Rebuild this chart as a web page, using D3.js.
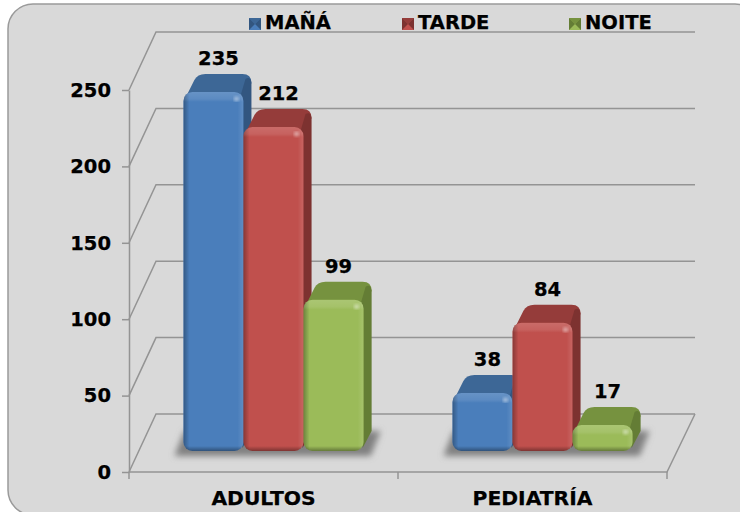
<!DOCTYPE html>
<html>
<head>
<meta charset="utf-8">
<script src="https://cdn.jsdelivr.net/npm/d3@7"></script>
<style>
    html, body { margin: 0; padding: 0; background: #ffffff; overflow: hidden; }
    svg { display: block; }
    text { font-family: "DejaVu Sans", sans-serif; font-weight: bold; fill: #000000; stroke: #000000; stroke-width: 0.25px; }
</style>
</head>
<body>
<svg id="drawing_region"></svg>
<script>
const categories = ["ADULTOS", "PEDIATRÍA"];
const series_names = ["MAÑÁ", "TARDE", "NOITE"];
const mana_values = [235, 38];
const tarde_values = [212, 84];
const noite_values = [99, 17];
const y_ticks = [0, 50, 100, 150, 200, 250];

const series_values = [mana_values, tarde_values, noite_values];

// front, top face, side face
const colors = [
    { front: "#4a7ebb", top: "#3d6796", side: "#325680" },
    { front: "#c0504d", top: "#953c3a", side: "#7d3230" },
    { front: "#9bbb59", top: "#76923f", side: "#647d35" }
];

const config = {
    width: 740,
    height: 512,
    x0: 129, x1: 667,
    y0: 472, y1: 90,
    depth_x: 27, depth_y: 58,
    bar_dx: 8, bar_dy: 18,
    bar_r: 9,
    base_lift: 21
};

const svg = d3.select("#drawing_region")
    .attr("width", config.width)
    .attr("height", config.height);

const defs = svg.append("defs");

defs.append("filter").attr("id", "blur_shadow")
    .attr("x", "-20%").attr("y", "-40%").attr("width", "140%").attr("height", "180%")
    .append("feGaussianBlur").attr("stdDeviation", 3);
defs.append("filter").attr("id", "blur_spot")
    .append("feGaussianBlur").attr("stdDeviation", 1.5);

function add_gradient(id, x2, y2, stops) {
    const g = defs.append("linearGradient").attr("id", id)
        .attr("x1", 0).attr("y1", 0).attr("x2", x2).attr("y2", y2);
    stops.forEach(s => {
        g.append("stop").attr("offset", s[0]).attr("stop-color", s[1]).attr("stop-opacity", s[2]);
    });
}
add_gradient("bevel_top", 0, 1, [[0, "#ffffff", 0.16], [0.7, "#ffffff", 0.1], [1, "#ffffff", 0]]);
add_gradient("bevel_bottom", 0, 1, [[0, "#000000", 0], [1, "#000000", 0.35]]);
add_gradient("bevel_left", 1, 0, [[0, "#000000", 0.3], [1, "#000000", 0]]);
add_gradient("bevel_right", 1, 0, [[0, "#ffffff", 0], [1, "#ffffff", 0.12]]);

// panel
svg.append("rect")
    .attr("x", 8).attr("y", 4)
    .attr("width", 752).attr("height", 511)
    .attr("rx", 25).attr("ry", 25)
    .attr("fill", "#d9d9d9")
    .attr("stroke", "#9a9a9a")
    .attr("stroke-width", 1.5);

// scales
const yscale = d3.scaleLinear().domain([0, 250]).range([config.y0, config.y1]);
const xscale = d3.scaleBand().domain(categories)
    .range([config.x0, config.x1]).paddingInner(0.33).paddingOuter(0.165);
const xinner = d3.scaleBand().domain(d3.range(series_names.length))
    .range([0, xscale.bandwidth()]);

// walls and floor
const grid_color = "#949494";
const grid = svg.append("g").attr("fill", "none")
    .attr("stroke", grid_color).attr("stroke-width", 1.5);

grid.selectAll("path.wall")
    .data(y_ticks)
    .join("path")
    .attr("class", "wall")
    .attr("d", d => {
        const p = d3.path();
        p.moveTo(config.x0, yscale(d));
        p.lineTo(config.x0 + config.depth_x, yscale(d) - config.depth_y);
        p.lineTo(config.x1 + config.depth_x + 1, yscale(d) - config.depth_y);
        return p.toString();
    });

// floor front and right edge
const floor = d3.path();
floor.moveTo(config.x0, yscale(0));
floor.lineTo(config.x1, yscale(0));
floor.lineTo(config.x1 + config.depth_x + 1, yscale(0) - config.depth_y);
grid.append("path").attr("d", floor.toString());

// axes
const yaxis = d3.axisLeft(yscale).tickValues(y_ticks).tickSize(7).tickPadding(11).tickSizeOuter(0);
const y_g = svg.append("g")
    .attr("transform", `translate(${config.x0},0)`)
    .call(yaxis);
y_g.select(".domain").attr("stroke", grid_color).attr("stroke-width", 1.5);
y_g.selectAll("line").attr("stroke", grid_color).attr("stroke-width", 1.5);
y_g.selectAll("text").style("font-size", "19.5px").attr("fill", "#000");

const xaxis = d3.axisBottom(xscale).tickSize(0).tickPadding(19);
const x_g = svg.append("g")
    .attr("transform", `translate(0,${config.y0})`)
    .call(xaxis);
x_g.select(".domain").remove();
x_g.selectAll("text").style("font-size", "20.3px").attr("fill", "#000");

// category separators on the floor edge
const step = (config.x1 - config.x0) / categories.length;
svg.append("g").selectAll("line")
    .data(d3.range(categories.length + 1))
    .join("line")
    .attr("x1", d => config.x0 + d * step)
    .attr("x2", d => config.x0 + d * step)
    .attr("y1", config.y0)
    .attr("y2", config.y0 + 7)
    .attr("stroke", grid_color)
    .attr("stroke-width", 1.5);

// flat list of bars
const bars = [];
categories.forEach((c, ci) => {
    series_values.forEach((vals, si) => {
        bars.push({ category: c, ci: ci, si: si, value: vals[ci] });
    });
});

const bar_x = d => xscale(d.category) + xinner(d.si) + 10;
const bar_w = xinner.bandwidth();
const base_y = config.y0 - config.base_lift;
const bar_top = d => yscale(d.value) - config.base_lift;

// shadows under each bar
svg.append("g").attr("filter", "url(#blur_shadow)")
    .selectAll("path")
    .data(bars)
    .join("path")
    .attr("d", d => {
        const x = bar_x(d), dx = 10, dy = 25;
        const p = d3.path();
        p.moveTo(x - 9, base_y + 5);
        p.lineTo(x + bar_w + 7, base_y + 5);
        p.lineTo(x + bar_w + 7 + dx, base_y + 5 - dy);
        p.lineTo(x - 9 + dx, base_y + 5 - dy);
        p.closePath();
        return p.toString();
    })
    .attr("fill", "#808080");

function rounded(x, y, w, h, r) {
    r = Math.min(r, h / 2, w / 2);
    const p = d3.path();
    p.moveTo(x + r, y);
    p.arcTo(x + w, y, x + w, y + h, r);
    p.arcTo(x + w, y + h, x, y + h, r);
    p.arcTo(x, y + h, x, y, r);
    p.arcTo(x, y, x + w, y, r);
    p.closePath();
    return p.toString();
}

const bar_g = svg.append("g").selectAll("g")
    .data(bars)
    .join("g");

bar_g.each(function (d, i) {
    const g = d3.select(this);
    const x = bar_x(d), y = bar_top(d), w = bar_w, h = base_y - y;
    const dx = config.bar_dx, dy = config.bar_dy, r = config.bar_r;
    const c = colors[d.si];
    const bx = x + w + dx, by = y - dy;

    // top face: slanted left edge up to the rounded back corner
    const top = d3.path();
    top.moveTo(x + 1, y + 8);
    top.lineTo(x + dx + 3, by + 6);
    top.quadraticCurveTo(x + dx + 6, by, x + dx + 14, by);
    top.lineTo(bx - r, by);
    top.quadraticCurveTo(bx, by, bx, by + r);
    top.lineTo(x + w, y + 8);
    top.closePath();
    g.append("path").attr("d", top.toString()).attr("fill", c.top);

    // side face
    const side = d3.path();
    side.moveTo(x + w - 3, y + 4);
    side.lineTo(bx - 6, by + 5);
    side.quadraticCurveTo(bx - 1, by + 2, bx, by + r);
    side.lineTo(bx, Math.max(by + r, base_y - dy - 2));
    side.lineTo(x + w - 1, base_y - 3);
    side.closePath();
    g.append("path").attr("d", side.toString()).attr("fill", c.side);

    // front face with bevels
    const clip = `bar_clip_${i}`;
    defs.append("clipPath").attr("id", clip)
        .append("path").attr("d", rounded(x, y, w, h, r));
    g.append("path").attr("d", rounded(x, y, w, h, r)).attr("fill", c.front);
    const f = g.append("g").attr("clip-path", `url(#${clip})`);
    f.append("rect").attr("x", x).attr("y", y).attr("width", 6).attr("height", h)
        .attr("fill", "url(#bevel_left)");
    f.append("rect").attr("x", x + w - 6).attr("y", y).attr("width", 6).attr("height", h)
        .attr("fill", "url(#bevel_right)");
    f.append("rect").attr("x", x).attr("y", y).attr("width", w).attr("height", 10)
        .attr("fill", "url(#bevel_top)");
    f.append("rect").attr("x", x).attr("y", base_y - 5).attr("width", w).attr("height", 5)
        .attr("fill", "url(#bevel_bottom)");
    f.append("circle").attr("cx", x + w - 7).attr("cy", y + 7).attr("r", 2.5)
        .attr("fill", "#ffffff").attr("fill-opacity", 0.45)
        .attr("filter", "url(#blur_spot)");
});

// value labels
svg.append("g").selectAll("text")
    .data(bars)
    .join("text")
    .attr("x", d => bar_x(d) + bar_w / 2 + 5)
    .attr("y", d => bar_top(d) - config.bar_dy - 9)
    .attr("text-anchor", "middle")
    .style("font-size", "19.5px")
    .text(d => d.value);

// legend
const legend_x = d3.scaleOrdinal().domain(series_names).range([249, 402, 569]);
const legend = svg.append("g").selectAll("g")
    .data(series_names)
    .join("g")
    .attr("transform", d => `translate(${legend_x(d)},18)`);

const swatch = 12;
legend.each(function (d, i) {
    const g = d3.select(this);
    const c = colors[i];
    g.append("rect").attr("width", swatch).attr("height", swatch).attr("fill", c.front);
    g.append("path")
        .attr("d", `M0,0L${swatch},0L${swatch / 2},${swatch / 2}Z`).attr("fill", c.top);
    g.append("path")
        .attr("d", `M0,0L0,${swatch}L${swatch / 2},${swatch / 2}Z`).attr("fill", c.side);
    g.append("path")
        .attr("d", `M${swatch},0L${swatch},${swatch}L${swatch / 2},${swatch / 2}Z`).attr("fill", c.side);
});
legend.append("text")
    .attr("x", swatch + 4)
    .attr("y", 11)
    .style("font-size", "19.5px")
    .text(d => d);
</script>
</body>
</html>
